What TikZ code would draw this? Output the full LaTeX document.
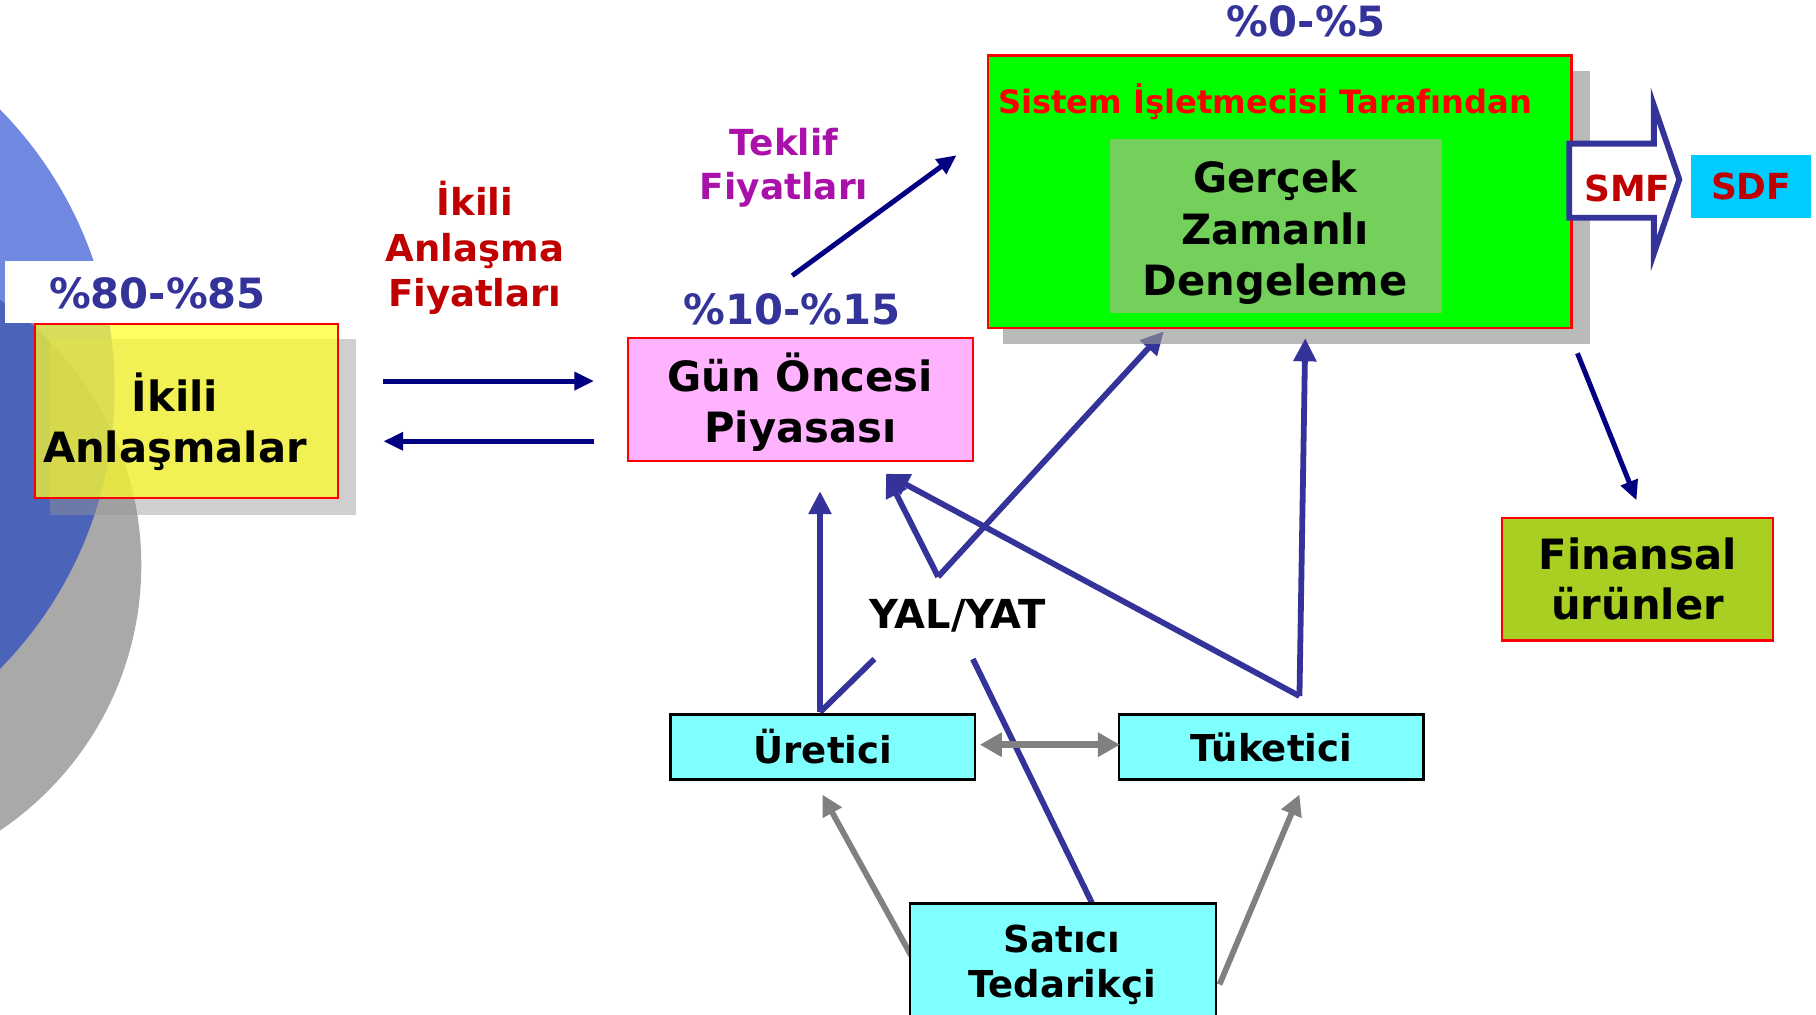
\documentclass[tikz,border=0pt]{standalone}
\usepackage{fontspec}
\setmainfont{DejaVu Sans}
\usetikzlibrary{arrows.meta}
\definecolor{navy}{RGB}{0,0,128}
\definecolor{indig}{RGB}{51,51,153}
\definecolor{dred}{RGB}{192,0,0}
\definecolor{purp}{RGB}{170,17,170}
\definecolor{pinkfill}{RGB}{255,179,255}
\definecolor{gfill}{RGB}{0,255,0}
\definecolor{ginner}{RGB}{115,208,90}
\definecolor{cyanfill}{RGB}{128,255,255}
\definecolor{sdffill}{RGB}{0,204,255}
\definecolor{finfill}{RGB}{168,207,34}
\definecolor{yelfill}{RGB}{255,255,40}
\definecolor{bluecirc}{RGB}{10,50,200}
\definecolor{graycirc}{RGB}{169,169,169}
\definecolor{shadowgray}{RGB}{150,150,150}
\definecolor{arrgray}{RGB}{128,128,128}
\newcommand{\fsz}[2]{\fontsize{#1}{#2}\selectfont\bfseries}
\begin{document}
\begin{tikzpicture}[x=1pt,y=-1pt,
  every node/.style={inner sep=0pt, outer sep=0pt, align=center},
  boxst/.style={draw=red, line width=2pt, anchor=north west, font=\fsz{36}{44}},
  cybox/.style={draw=black, line width=2pt, fill=cyanfill, anchor=north west, font=\fsz{32}{39}},
  pct/.style={text=indig, font=\fsz{36}{40}},
  navyarr/.style={draw=navy, line width=4.3pt, -{Triangle[length=17pt,width=15pt]}},
  hubline/.style={draw=indig, line width=5pt},
  hubarr/.style={hubline, -{Triangle[length=20pt,width=19pt]}},
  grayarr/.style={draw=arrgray, line width=5pt, -{Triangle[length=18pt,width=18pt]}},
  grayboth/.style={draw=arrgray, line width=6pt, {Triangle[length=19pt,width=20pt]}-{Triangle[length=19pt,width=20pt]}}
]
\useasboundingbox (0,0) rectangle (1568,876);
\clip (0,0) rectangle (1568,876);
\fill[white] (0,0) rectangle (1568,876);

% background circles
\fill[graycirc] (-154,488) circle [radius=276pt];
\fill[bluecirc, opacity=0.58] (-245,336) circle [radius=344pt];

% label box of the percentage
\fill[white] (4,225) rectangle (268,279);
\node[pct] (p80) at (136,253) {\%80-\%85};

% Ikili Anlasmalar box
\fill[shadowgray, opacity=0.45] (43,293) rectangle (307,445);
\node[boxst, fill=yelfill, fill opacity=0.72, minimum width=262pt, minimum height=150pt] (ikiliBox) at (30,280) {};
\node[font=\fsz{36}{44}] (ikili) at (151,364) {İkili\\Anlaşmalar};

% arrows between Ikili and Gun Oncesi
\coordinate (arA1) at (331,329);
\coordinate (arA2) at (513,329);
\coordinate (arB1) at (513,381);
\coordinate (arB2) at (331,381);
\draw[navyarr] (arA1) -- (arA2);
\draw[navyarr] (arB1) -- (arB2);
\node[text=dred, font=\fsz{32}{39}] (ikfiy) at (410,214) {İkili\\Anlaşma\\Fiyatları};

% Teklif
\node[text=purp, font=\fsz{31}{38}] (teklif) at (677,145) {Teklif\\Fiyatları};
\coordinate (tk1) at (684,238);
\coordinate (tk2) at (826,134);
\draw[navyarr] (tk1) -- (tk2);

% hub coordinates
\coordinate (yalTop) at (810,498);
\coordinate (gunTip) at (765,409);
\coordinate (gerTip) at (1005,286);
\coordinate (tukHub) at (1122,601);
\coordinate (tukTip) at (1127,292);
\coordinate (ureHub) at (708,615);
\coordinate (ureTip) at (708,424);
\coordinate (yalBL) at (755,569);
\coordinate (yalBR) at (840,569);
\coordinate (satTop) at (943,780);

% arrow hidden partly by the shadow
\draw[hubarr] (yalTop) -- (gerTip);

% Green box
\fill[shadowgray, opacity=0.65] (866,61) rectangle (1373,297);
\node[boxst, fill=gfill, minimum width=504pt, minimum height=235pt] (gercekbox) at (853,48) {};
\node[text=red, font=\fsz{27.8}{30}] (sistem) at (1092.5,88) {Sistem İşletmecisi Tarafından};
\fill[ginner] (958,120) rectangle (1245,270);
\node[font=\fsz{36}{44.5}] (gercek) at (1101,201) {Gerçek\\Zamanlı\\Dengeleme};
\node[pct] (p0) at (1128,18) {\%0-\%5};

% SMF block arrow and SDF
\draw[indig, line width=5pt, fill=white, line join=miter] (1355,124) -- (1428,124) -- (1428,91) -- (1450,155) -- (1428,219) -- (1428,188) -- (1355,188) -- cycle;
\node[text=dred, font=\fsz{31}{34}] (smf) at (1405,163) {SMF};
\node[fill=sdffill, anchor=north west, minimum width=104pt, minimum height=54pt, text=dred, font=\fsz{31}{34}] (sdf) at (1460,134) {SDF};

% Finansal
\coordinate (fa1) at (1362,305);
\coordinate (fa2) at (1413,432);
\draw[navyarr] (fa1) -- (fa2);
\node[boxst, fill=finfill, minimum width=234pt, minimum height=106pt, font=\fsz{36}{43}] (finans) at (1297,447) {Finansal\\ürünler};

% Gun Oncesi
\node[pct] (p10) at (684,267) {\%10-\%15};
\node[boxst, fill=pinkfill, minimum width=298pt, minimum height=106pt] (gunBox) at (542,292) {};
\node[font=\fsz{36}{44}] (gun) at (691,347) {Gün Öncesi\\Piyasası};

% hub lines
\draw[hubarr] (yalTop) -- (gunTip);
\draw[hubarr] (tukHub) -- (gunTip);
\draw[hubarr] (tukHub) -- (tukTip);
\draw[hubarr] (ureHub) -- (ureTip);
\draw[hubline] (ureHub) -- (yalBL);
\draw[hubline] (satTop) -- (yalBR);
\node[font=\fsz{34.5}{36}] (yal) at (827,532) {YAL/YAT};

% gray arrows
\coordinate (g1a) at (790,831);
\coordinate (g1b) at (710,686);
\coordinate (g2a) at (1053,850);
\coordinate (g2b) at (1122,686);
\coordinate (d1) at (846,643);
\coordinate (d2) at (967,643);
\draw[grayarr] (g1a) -- (g1b);
\draw[grayarr] (g2a) -- (g2b);

% cyan boxes
\node[cybox, minimum width=263pt, minimum height=56pt] (ure) at (579,617) {Üretici};
\node[cybox, minimum width=263pt, minimum height=56pt] (tuk) at (966,617) {Tüketici};
\node[cybox, minimum width=264pt, minimum height=100pt] (satBox) at (786,780) {};
\node[font=\fsz{32}{39}] (sat) at (917,833) {Satıcı\\Tedarikçi};
\draw[grayboth] (d1) -- (d2);
\end{tikzpicture}
\end{document}
